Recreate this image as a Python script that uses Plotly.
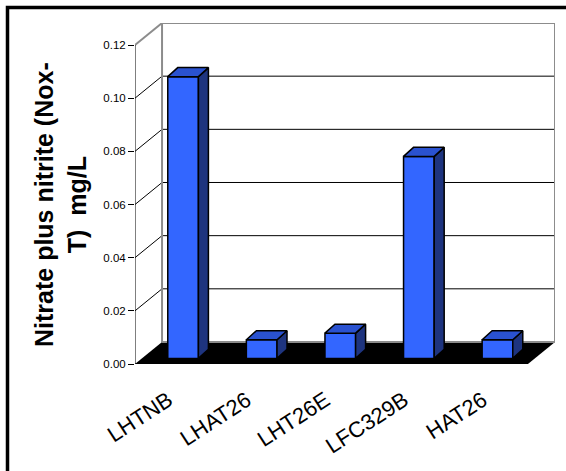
import plotly.graph_objects as go

# ---- data -------------------------------------------------------------
sites = ["LHTNB", "LHAT26", "LHT26E", "LFC329B", "HAT26"]
nox_mg_l = [0.106, 0.007, 0.0095, 0.076, 0.007]
y_tick_vals = [0.00, 0.02, 0.04, 0.06, 0.08, 0.10, 0.12]
y_title = "<b>Nitrate plus nitrite (Nox-<br>T)\u00a0 mg/L</b>"

# ---- layout constants ------------------------------------------------
FIG_W, FIG_H = 566, 471
M_L, M_R, M_T, M_B = 135, 11, 23, 107
PLOT_W = FIG_W - M_L - M_R
PLOT_H = FIG_H - M_T - M_B

n = len(sites)
y_top = y_tick_vals[-1]

# depth of the 3-D box (walls/floor) in axis units
DX = 0.344
DY = 0.00828

# bar solid geometry in axis units
BAR_W = 0.39
BAR_SHIFT = 0.112
BAR_BASE = 0.0021
BAR_DX = 0.127
BAR_DY = 0.0034

FRONT = "#3366FF"
TOP = "#2A52D0"
SIDE = "#1E347F"
WALL = "#8C8C8C"
FONT = "Arial, Liberation Sans, sans-serif"

x_lo, x_hi = -0.5, n - 0.5

shapes = []

# floor slab
shapes.append(dict(
    type="path", layer="below", line=dict(width=0), fillcolor="black",
    path=(f"M {x_lo},0 L {x_hi},0 L {x_hi + DX},{DY} "
          f"L {x_lo + DX},{DY} Z"),
))

# gridlines: diagonal on the side wall, horizontal on the back wall
for v in y_tick_vals[1:-1]:
    shapes.append(dict(type="line", layer="below", x0=x_lo, y0=v,
                       x1=x_lo + DX, y1=v + DY,
                       line=dict(color="black", width=1)))
    shapes.append(dict(type="line", layer="below", x0=x_lo + DX, y0=v + DY,
                       x1=x_hi + DX, y1=v + DY,
                       line=dict(color="black", width=1)))

# wall outlines
wall_edges = [
    ((x_lo, y_top), (x_lo + DX, y_top + DY)),
    ((x_lo + DX, DY), (x_lo + DX, y_top + DY)),
    ((x_lo + DX, y_top + DY), (x_hi + DX, y_top + DY)),
    ((x_hi + DX, DY), (x_hi + DX, y_top + DY)),
    ((x_lo + DX, DY), (x_hi + DX, DY)),
]
for (ax, ay), (bx, by) in wall_edges:
    shapes.append(dict(type="line", layer="below", x0=ax, y0=ay, x1=bx, y1=by,
                       line=dict(color=WALL, width=2)))

# front value axis
shapes.append(dict(type="line", x0=x_lo, y0=0, x1=x_lo, y1=y_top,
                   line=dict(color="black", width=1)))
# front category axis
shapes.append(dict(type="line", x0=x_lo, y0=0, x1=x_hi, y1=0,
                   line=dict(color="black", width=1)))
# category boundary ticks
for k in range(n + 1):
    shapes.append(dict(type="line", xref="x", yref="y", ysizemode="pixel",
                       yanchor=0, x0=x_lo + k, x1=x_lo + k, y0=0, y1=-7,
                       line=dict(color="black", width=1)))

# outer frame
px_to_paper_x = lambda px: (px - M_L) / PLOT_W
px_to_paper_y = lambda py: (FIG_H - M_B - py) / PLOT_H
shapes.append(dict(type="rect", xref="paper", yref="paper",
                   x0=px_to_paper_x(7.5), x1=px_to_paper_x(FIG_W + 20),
                   y0=px_to_paper_y(FIG_H + 20), y1=px_to_paper_y(7.5),
                   line=dict(color="black", width=3.5)))

fig = go.Figure()

# front faces
bar_x = [i + BAR_SHIFT for i in range(n)]
fig.add_trace(go.Bar(
    x=bar_x, y=nox_mg_l, base=BAR_BASE, width=BAR_W,
    marker=dict(color=FRONT, line=dict(color="black", width=1.5)),
    hoverinfo="skip", showlegend=False,
))

# side and top faces
side_x, side_y, top_x, top_y = [], [], [], []
for cx, v in zip(bar_x, nox_mg_l):
    xl, xr = cx - BAR_W / 2, cx + BAR_W / 2
    y0, y1 = BAR_BASE, BAR_BASE + v
    side_x += [xr, xr + BAR_DX, xr + BAR_DX, xr, xr, None]
    side_y += [y0, y0 + BAR_DY, y1 + BAR_DY, y1, y0, None]
    top_x += [xl, xr, xr + BAR_DX, xl + BAR_DX, xl, None]
    top_y += [y1, y1, y1 + BAR_DY, y1 + BAR_DY, y1, None]

fig.add_trace(go.Scatter(x=side_x, y=side_y, mode="lines", fill="toself",
                         fillcolor=SIDE, line=dict(color="black", width=1.5),
                         hoverinfo="skip", showlegend=False))
fig.add_trace(go.Scatter(x=top_x, y=top_y, mode="lines", fill="toself",
                         fillcolor=TOP, line=dict(color="black", width=1.5),
                         hoverinfo="skip", showlegend=False))

fig.update_layout(
    width=FIG_W, height=FIG_H,
    margin=dict(l=M_L, r=M_R, t=M_T, b=M_B, pad=0),
    paper_bgcolor="white", plot_bgcolor="white",
    font=dict(family=FONT, color="black"),
    shapes=shapes,
    xaxis=dict(range=[x_lo, x_hi + DX], tickvals=list(range(n)),
               ticktext=sites, tickangle=-33, ticks="outside", ticklen=14,
               ticklabelshift=-6,
               tickcolor="rgba(0,0,0,0)", showline=False, showgrid=False,
               zeroline=False,
               tickfont=dict(size=22, family=FONT, color="black")),
    yaxis=dict(range=[0, y_top + DY], tickvals=y_tick_vals, tickformat=".2f",
               ticks="outside", ticklen=6, tickcolor="black", tickwidth=1,
               showline=False, showgrid=False, zeroline=False,
               tickfont=dict(size=11.5, family=FONT, color="black")),
    annotations=[dict(
        text=y_title, textangle=-90, showarrow=False,
        xref="paper", yref="paper",
        x=px_to_paper_x(60), y=px_to_paper_y(205),
        xanchor="center", yanchor="middle",
        font=dict(size=25, family=FONT, color="black"),
    )],
)

fig.write_html("out.html")
